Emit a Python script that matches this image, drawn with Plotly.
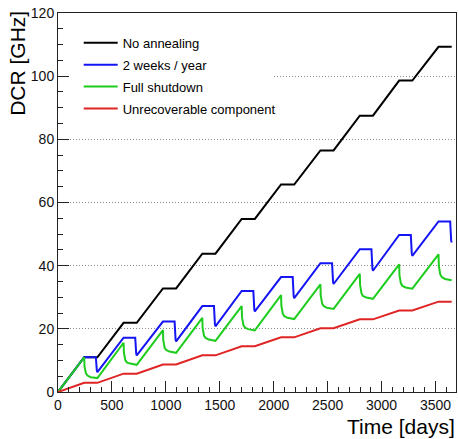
import plotly.graph_objects as go

# ---- data ----
black_x = [0, 243, 365, 608, 730, 973, 1095, 1338, 1460, 1703, 1825, 2068, 2190,
           2433, 2555, 2798, 2920, 3163, 3285, 3528, 3650]
black_y = [0, 11.0, 11.0, 21.9, 21.9, 32.8, 32.8, 43.8, 43.8, 54.8, 54.8, 65.7, 65.7,
           76.5, 76.5, 87.5, 87.5, 98.6, 98.6, 109.3, 109.3]

red_x = black_x
red_y = [0, 2.9, 2.9, 5.8, 5.8, 8.7, 8.7, 11.6, 11.6, 14.5, 14.5, 17.3, 17.3,
         20.2, 20.2, 23.0, 23.0, 25.8, 25.8, 28.6, 28.6]

blue_x = [0,
          243, 351, 353, 356, 360, 365,
          608, 716, 718, 721, 725, 730,
          973, 1081, 1083, 1086, 1090, 1095,
          1338, 1446, 1448, 1451, 1455, 1460,
          1703, 1811, 1813, 1816, 1820, 1825,
          2068, 2176, 2178, 2181, 2185, 2190,
          2433, 2541, 2543, 2546, 2550, 2555,
          2798, 2906, 2908, 2911, 2915, 2920,
          3163, 3271, 3273, 3276, 3280, 3285,
          3528, 3636, 3638, 3641, 3645, 3650]
blue_y = [0,
          11.0, 11.0, 8.9, 7.5, 6.8, 6.3,
          17.2, 17.2, 14.7, 13.0, 12.2, 11.6,
          22.3, 22.3, 19.5, 17.6, 16.6, 16.0,
          27.2, 27.2, 24.3, 22.4, 21.4, 20.8,
          32.0, 32.0, 29.1, 27.1, 26.1, 25.5,
          36.4, 36.4, 33.4, 31.4, 30.4, 29.7,
          40.8, 40.8, 37.8, 35.9, 34.9, 34.2,
          45.2, 45.2, 42.1, 40.1, 39.1, 38.4,
          49.7, 49.7, 46.7, 44.7, 43.8, 43.1,
          54.0, 54.0, 51.0, 49.0, 48.0, 47.3]

green_x = [0,
           243, 246, 251, 259, 273, 303, 365,
           608, 611, 616, 624, 638, 668, 730,
           973, 976, 981, 989, 1003, 1033, 1095,
           1338, 1341, 1346, 1354, 1368, 1398, 1460,
           1703, 1706, 1711, 1719, 1733, 1763, 1825,
           2068, 2071, 2076, 2084, 2098, 2128, 2190,
           2433, 2436, 2441, 2449, 2463, 2493, 2555,
           2798, 2801, 2806, 2814, 2828, 2858, 2920,
           3163, 3166, 3171, 3179, 3193, 3223, 3285,
           3528, 3531, 3536, 3544, 3558, 3588, 3650]
green_y = [0,
           11.0, 8.0, 6.7, 5.9, 5.2, 4.7, 4.4,
           15.6, 12.5, 11.1, 10.1, 9.4, 9.0, 8.6,
           19.6, 16.4, 14.9, 14.0, 13.3, 12.8, 12.4,
           23.5, 20.2, 18.8, 17.8, 17.1, 16.6, 16.2,
           27.2, 23.7, 22.2, 21.2, 20.4, 19.9, 19.5,
           30.7, 27.3, 25.8, 24.8, 24.0, 23.5, 23.1,
           34.1, 30.6, 29.0, 28.0, 27.2, 26.7, 26.3,
           37.4, 33.8, 32.3, 31.2, 30.4, 29.9, 29.5,
           40.4, 36.9, 35.4, 34.4, 33.6, 33.1, 32.7,
           43.6, 39.9, 38.3, 37.2, 36.4, 35.8, 35.4]

series = [
    ("No annealing", black_x, black_y, "#000000"),
    ("2 weeks / year", blue_x, blue_y, "#1414f5"),
    ("Full shutdown", green_x, green_y, "#1ecc1e"),
    ("Unrecoverable component", red_x, red_y, "#e02424"),
]

FONT = "Liberation Sans, Arial, sans-serif"

fig = go.Figure()
for i, (name, xs, ys, col) in enumerate(series):
    fig.add_trace(go.Scatter(x=xs, y=ys, mode="lines", name=name,
                             legendgroup="g%d" % i,
                             line=dict(color=col, width=2)))

axis_common = dict(
    showline=True, mirror=True, linecolor="#222", linewidth=1,
    ticks="inside", tickcolor="#222", tickwidth=1, ticklen=11,
    tickfont=dict(family=FONT, size=14, color="#111"),
    zeroline=False, automargin=False,
)

fig.update_xaxes(range=[0, 3690], dtick=500, tick0=0, showgrid=False,
                 minor=dict(dtick=100, ticks="inside", ticklen=5, tickcolor="#222"),
                 ticklabelstandoff=0, **axis_common)
fig.update_yaxes(range=[0, 120], dtick=20, tick0=0, showgrid=True,
                 gridcolor="#8a8a8a", griddash="1px,2px", gridwidth=1,
                 minor=dict(dtick=5, ticks="inside", ticklen=5, tickcolor="#222", showgrid=False),
                 ticklabelstandoff=0, **axis_common)

fig.add_shape(type="rect", xref="x", yref="y", x0=0, x1=1990, y0=97, y1=103,
              fillcolor="white", line=dict(width=0), layer="between")

fig.add_annotation(text="DCR [GHz]", xref="paper", yref="paper",
                   x=-0.102, y=0.867, xanchor="center", yanchor="middle",
                   textangle=-90, showarrow=False,
                   font=dict(family=FONT, size=21, color="#000"))
fig.add_annotation(text="Time [days]", xref="paper", yref="paper",
                   x=1.003, y=-0.091, xanchor="right", yanchor="middle",
                   showarrow=False,
                   font=dict(family=FONT, size=21, color="#000"))

fig.update_layout(
    width=458, height=439,
    margin=dict(l=58, r=2, t=13, b=47),
    paper_bgcolor="white", plot_bgcolor="white",
    font=dict(family=FONT, color="#000"),
    showlegend=True,
    legend=dict(x=0.052, y=0.961, xanchor="left", yanchor="top",
                bgcolor="rgba(0,0,0,0)", borderwidth=0,
                font=dict(family=FONT, size=13, color="#000"),
                itemwidth=34, tracegroupgap=2),
)

fig.write_html("out.html",
               config={"displayModeBar": False},
               post_script="document.body.style.margin='0';"
                           "document.body.style.padding='0';"
                           "document.documentElement.style.overflow='hidden';")
